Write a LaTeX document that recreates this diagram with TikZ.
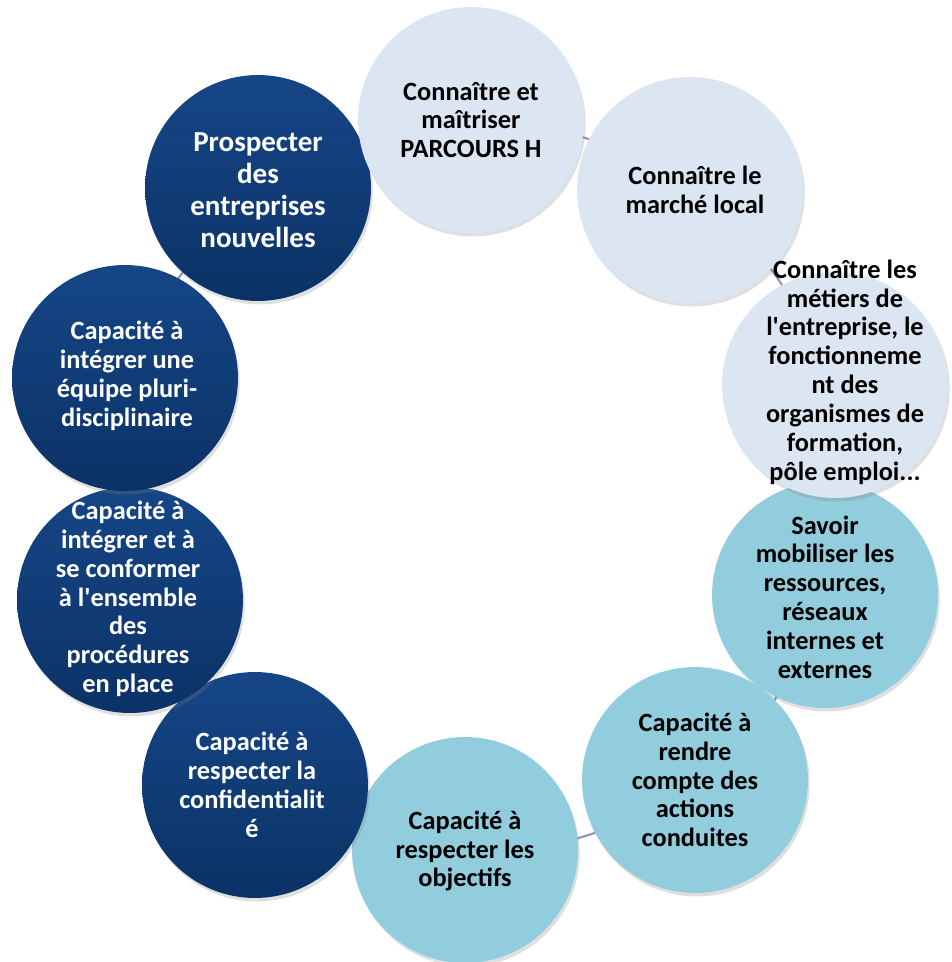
\documentclass[tikz,border=0pt]{standalone}
\usepackage{fontspec}
\setmainfont{Carlito}
\usepackage{tikz}
\usetikzlibrary{shadows}

\begin{document}
\begin{tikzpicture}
		[x=0.02cm,y=-0.02cm,line cap=round,
		%Styles
		bubble/.style={circle,minimum size=4.52cm,inner sep=0pt,
			drop shadow={shadow xshift=1pt,shadow yshift=-2pt,opacity=.25}},
		pale bubble/.style={bubble,fill=palecolor},
		teal bubble/.style={bubble,fill=tealcolor},
		dark bubble/.style={bubble,top color=darktop,bottom color=darkbottom},
		bubble text/.style={align=center,inner sep=0pt,font=\bfseries\fontsize{15}{16.4}\selectfont},
		ring/.style={draw=ringcolor,line width=1.2pt}
		]
		
		%Colors
		\definecolor{palecolor}{RGB}{220,230,242}
		\definecolor{tealcolor}{RGB}{146,205,221}
		\definecolor{darktop}{RGB}{22,70,135}
		\definecolor{darkbottom}{RGB}{11,50,102}
		\definecolor{ringcolor}{RGB}{140,150,182}
		
		\useasboundingbox (0,0) rectangle (951,962);
		\clip (0,0) rectangle (951,962);
		
		%The ring
		\coordinate (hub) at (478,487);
		\draw[ring] (hub) circle (365);
		
		%The bubbles
		\node[teal bubble] (mobiliser) at (825,595) {};
		\node[pale bubble] (metiers) at (835,385) {};
		\node[pale bubble] (marche) at (690,190) {};
		\node[dark bubble] (prospecter) at (258,188) {};
		\node[pale bubble] (parcours) at (471,120) {};
		\node[teal bubble] (rendre) at (695,780) {};
		\node[teal bubble] (objectifs) at (465,850) {};
		\node[dark bubble] (confid) at (255,785) {};
		\node[dark bubble] (conformer) at (130,600) {};
		\node[dark bubble] (equipe) at (125,378) {};
		
		%The texts
		\node[bubble text] (parcours-t) at (471,120) {Connaître et\\maîtriser\\PARCOURS H};
		\node[bubble text] (marche-t) at (695,190) {Connaître le\\marché local};
		\node[bubble text] (metiers-t) at (845,372) {Connaître les\\métiers de\\l\textquotesingle entreprise, le\\fonctionneme\\nt des\\organismes de\\formation,\\pôle emploi...};
		\node[bubble text] (mobiliser-t) at (825,597) {Savoir\\mobiliser les\\ressources,\\réseaux\\internes et\\externes};
		\node[bubble text] (rendre-t) at (695,780) {Capacité à\\rendre\\compte des\\actions\\conduites};
		\node[bubble text] (objectifs-t) at (465,851) {Capacité à\\respecter les\\objectifs};
		\node[bubble text,white] (confid-t) at (252,785) {Capacité à\\respecter la\\confidentialit\\é};
		\node[bubble text,white] (conformer-t) at (128,599) {Capacité à\\intégrer et à\\se conformer\\à l\textquotesingle ensemble\\des\\procédures\\en place};
		\node[bubble text,white] (equipe-t) at (127,376) {Capacité à\\intégrer une\\équipe pluri-\\disciplinaire};
		\node[bubble text,white,font=\bfseries\fontsize{16.5}{18.3}\selectfont] (prospecter-t) at (258,190) {Prospecter\\des\\entreprises\\nouvelles};
	\end{tikzpicture}
\end{document}
